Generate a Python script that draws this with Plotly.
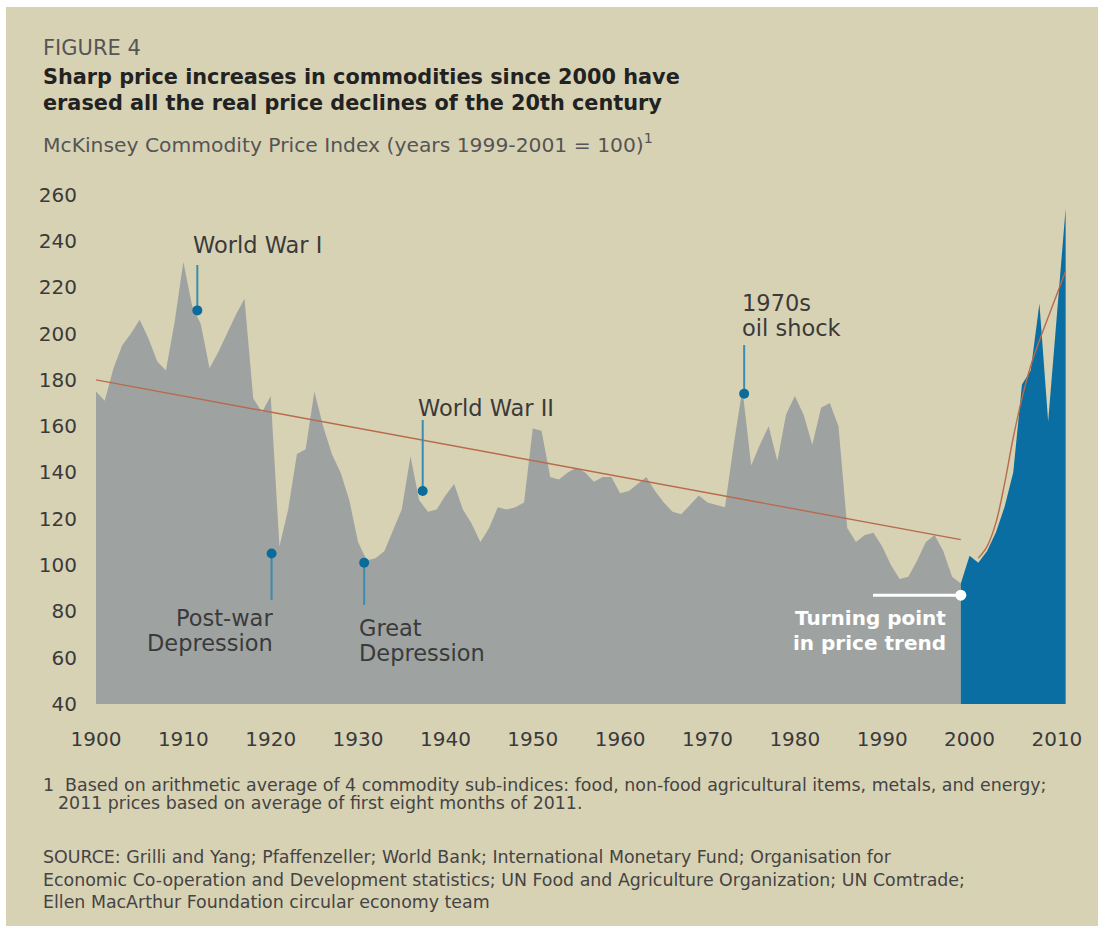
import plotly.graph_objects as go

# ---------------- data ----------------
years_hist = list(range(1900, 2000))
index_hist = [175, 171, 185, 195, 200, 206, 198, 188, 184, 205,
              231, 212, 204, 185, 192, 200, 208, 215, 172, 166,
              173, 108, 124, 148, 150, 175, 160, 148, 140, 128,
              110, 102, 103, 106, 115, 124, 147, 128, 123, 124,
              130, 135, 124, 118, 110, 116, 125, 124, 125, 127,
              159, 158, 138, 137, 140, 142, 140, 136, 138, 138,
              131, 132, 135, 138, 132, 127, 123, 122, 126, 130,
              127, 126, 125, 152, 176, 143, 152, 160, 145, 165,
              173, 165, 152, 168, 170, 160, 116, 110, 113, 114,
              108, 100, 94, 95, 102, 110, 113, 106, 95, 92]

years_recent = list(range(1999, 2012))
index_recent = [92, 104, 101, 106, 114, 125, 140, 178, 184, 213, 162, 208, 254]

trend_years = [1900, 1999]
trend_values = [180, 111]

rebound_years = list(range(2001, 2012))
rebound_values = [103, 108, 118, 135, 155, 172, 186, 197, 207, 217, 227]

event_labels = [["World War I"], ["Post-war", "Depression"], ["Great", "Depression"],
                ["World War II"], ["1970s", "oil shock"]]
event_years = [1911.6, 1920.1, 1930.7, 1937.4, 1974.2]
event_values = [210, 105, 101, 132, 174]

turn_label = ["Turning point", "in price trend"]
turn_year = 1999
turn_value = 87

x_ticks = list(range(1900, 2011, 10))
y_ticks = list(range(40, 261, 20))

# ---------------- style ----------------
W, H = 1105, 937
ML, MR, MT, MB = 96, 35, 190, 233
PW, PH = W - ML - MR, H - MT - MB
BG = "#d8d2b4"
GRAY = "#9ea3a2"
BLUE = "#0a6ea2"
DOT = "#0b6b9a"
STEM = "#3a8db0"
TREND = "#b86a4c"
TXT = "#3a3a3a"
FONT = "DejaVu Sans"


def P(xpx, ypx):
    return (xpx - ML) / PW, (H - MB - ypx) / PH


def V(ypx):
    # pixel row -> index value on the y axis
    return 40 + (H - MB - ypx) * 222 / PH


def YR(xpx):
    return 1900 + (xpx - ML) * 111.5 / PW


fig = go.Figure()

fig.add_trace(go.Scatter(x=years_hist, y=index_hist, mode="lines", fill="tozeroy",
                         fillcolor=GRAY, line=dict(width=0, color=GRAY),
                         hoverinfo="skip", showlegend=False))
fig.add_trace(go.Scatter(x=years_recent, y=index_recent, mode="lines", fill="tozeroy",
                         fillcolor=BLUE, line=dict(width=0, color=BLUE),
                         hoverinfo="skip", showlegend=False))
fig.add_trace(go.Scatter(x=trend_years, y=trend_values, mode="lines",
                         line=dict(width=1.4, color=TREND), showlegend=False))
fig.add_trace(go.Scatter(x=rebound_years, y=rebound_values, mode="lines",
                         line=dict(width=1.4, color=TREND, shape="spline"), showlegend=False))

# event stems (pixel ends of the leader lines)
stem_end_px = [265, 600, 605, 420, 345]
for yr, v, e in zip(event_years, event_values, stem_end_px):
    fig.add_trace(go.Scatter(x=[yr, yr], y=[v, V(e)], mode="lines",
                             line=dict(width=2, color=STEM), showlegend=False, hoverinfo="skip"))
fig.add_trace(go.Scatter(x=event_years, y=event_values, mode="markers",
                         marker=dict(size=10, color=DOT), showlegend=False))

# turning point
fig.add_trace(go.Scatter(x=[YR(873), turn_year], y=[turn_value, turn_value], mode="lines",
                         line=dict(width=3, color="white"), showlegend=False, hoverinfo="skip"))
fig.add_trace(go.Scatter(x=[turn_year], y=[turn_value], mode="markers",
                         marker=dict(size=11, color="white"), showlegend=False))

ann = []
# event labels: (x px, anchor, first-line y px)
lab_pos = [(191, "left", 245), (275, "right", 618), (357, "left", 628),
           (416, "left", 408), (740, "left", 303)]
for lines, (xp, a, yp) in zip(event_labels, lab_pos):
    for i, t in enumerate(lines):
        ann.append(dict(x=YR(xp), y=V(yp + 24.5 * i), xref="x", yref="y", text=t,
                        showarrow=False, xanchor=a, yanchor="middle",
                        font=dict(family=FONT, size=22.5, color=TXT)))
for i, t in enumerate(turn_label):
    ann.append(dict(x=YR(948), y=V(618 + 24.5 * i), xref="x", yref="y",
                    text="<b>" + t + "</b>", showarrow=False,
                    xanchor="right", yanchor="middle",
                    font=dict(family=FONT, size=20, color="white")))


def text_line(txt, ypx, size, color, xpx=41):
    x, y = P(xpx, ypx)
    ann.append(dict(x=x, y=y, xref="paper", yref="paper", text=txt, showarrow=False,
                    xanchor="left", yanchor="middle",
                    font=dict(family=FONT, size=size, color=color)))


text_line("FIGURE 4", 48, 21, "#555555")
text_line("<b>Sharp price increases in commodities since 2000 have</b>", 77, 20.8, "#222222")
text_line("<b>erased all the real price declines of the 20th century</b>", 103, 20.8, "#222222")
text_line("McKinsey Commodity Price Index (years 1999-2001 = 100)<sup>1</sup>", 143, 20.3, "#555555")
text_line("1  Based on arithmetic average of 4 commodity sub-indices: food, non-food agricultural items, metals, and energy;",
          785, 17.4, "#444444")
text_line("2011 prices based on average of first eight months of 2011.", 803, 17.4, "#444444", 56)
text_line("SOURCE: Grilli and Yang; Pfaffenzeller; World Bank; International Monetary Fund; Organisation for",
          857, 17.4, "#444444")
text_line("Economic Co-operation and Development statistics; UN Food and Agriculture Organization; UN Comtrade;",
          880, 17.4, "#444444")
text_line("Ellen MacArthur Foundation circular economy team", 902, 17.4, "#444444")

# beige panel with white frame
x0, y0 = P(6, 7)
x1, y1 = P(1098, 926)
shapes = [dict(type="rect", xref="paper", yref="paper", x0=x0, y0=y1, x1=x1, y1=y0,
               fillcolor=BG, line=dict(width=0), layer="below")]

fig.update_layout(
    width=W, height=H,
    margin=dict(l=ML, r=MR, t=MT, b=MB),
    paper_bgcolor="white", plot_bgcolor=BG,
    font=dict(family=FONT, color=TXT),
    annotations=ann, shapes=shapes,
    showlegend=False,
    xaxis=dict(range=[1900, 2011.5], tickvals=x_ticks, showgrid=False, zeroline=False,
               showline=False, ticks="outside", ticklen=17, tickcolor="rgba(0,0,0,0)",
               tickfont=dict(family=FONT, size=20, color=TXT), fixedrange=True,
               automargin=False),
    yaxis=dict(range=[40, 262], tickvals=y_ticks, showgrid=False, zeroline=False,
               showline=False, ticks="outside", ticklen=14, tickcolor="rgba(0,0,0,0)",
               tickfont=dict(family=FONT, size=20, color=TXT), fixedrange=True,
               automargin=False),
)

fig.write_html("out.html", config={"displayModeBar": False},
               post_script="document.body.style.margin='0';")
